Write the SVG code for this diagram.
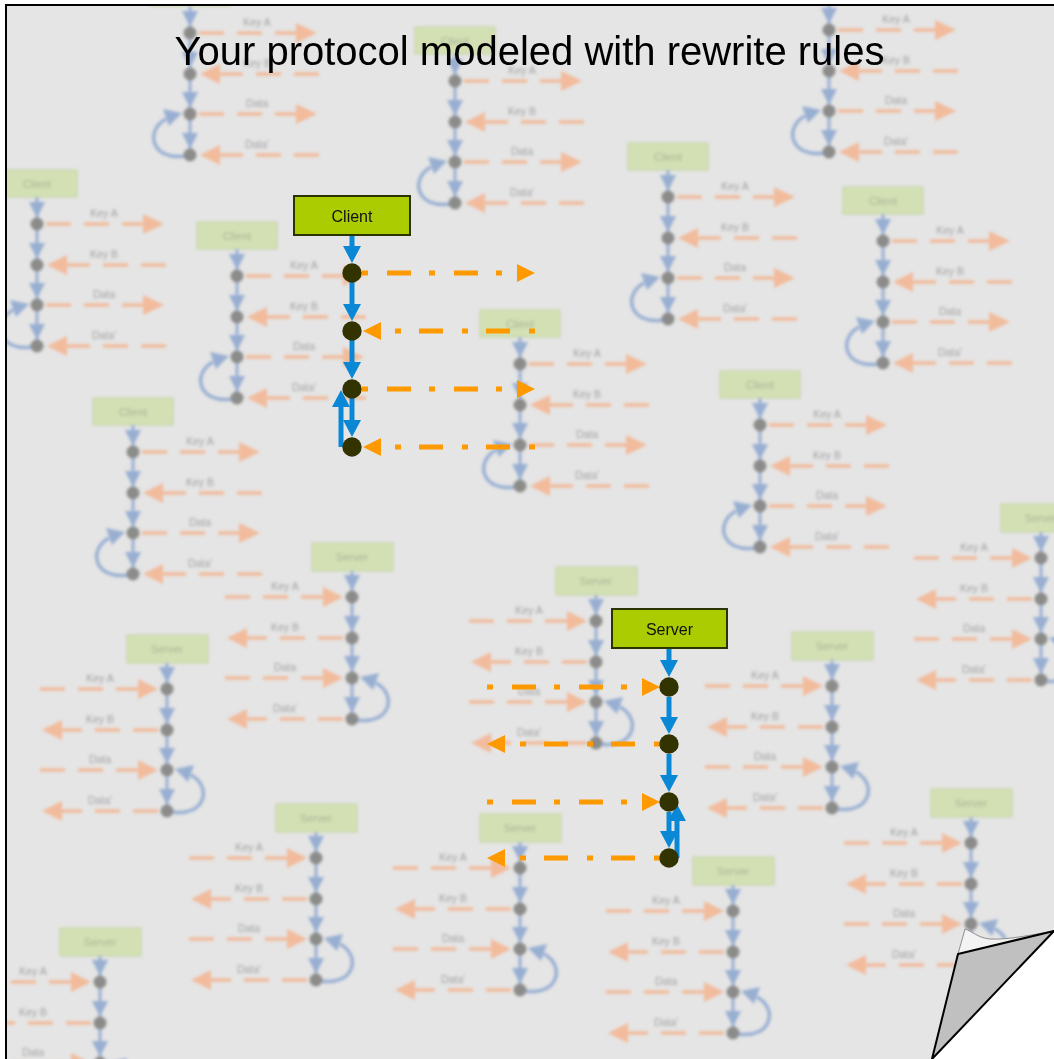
<svg xmlns="http://www.w3.org/2000/svg" width="1054" height="1059" viewBox="0 0 1054 1059">
<style>
  .bbox{fill:#d2e0b3;stroke:#c3d3a3;stroke-width:1}
  .btxt{font-family:"Liberation Sans",Arial,sans-serif;font-size:11px;fill:#a7b497;text-anchor:middle}
  .bchain{stroke:#98afd2;stroke-width:3;fill:none}
  .bloop{stroke:#98afd2;stroke-width:3.5;fill:none}
  .bhead{fill:#98afd2}
  .bnode{fill:#8b8b89}
  .bdash{stroke:#f2bb9c;stroke-width:3.5;fill:none;stroke-dasharray:25 13}
  .bohead{fill:#f2bb9c}
  .blbl{font-family:"Liberation Sans",Arial,sans-serif;font-size:10.5px;fill:#a2a2a2;text-anchor:middle}
  .box{fill:#aacc00;stroke:#2b3300;stroke-width:2}
  .boxtxt{font-family:"Liberation Sans",Arial,sans-serif;font-size:16px;fill:#111;text-anchor:middle}
  .state{fill:#333300}
  .flow{stroke:#0a88d6;stroke-width:5;fill:none}
  .flowhead{fill:#0a88d6}
  .msg{stroke:#ff9900;stroke-width:5;fill:none;stroke-dasharray:6 19 24 18}
  .msghead{fill:#ff9900}
  .title{font-family:"Liberation Sans",Arial,sans-serif;font-size:40px;fill:#000;text-anchor:middle}
</style>
<defs>
  <filter id="soft" filterUnits="userSpaceOnUse" x="0" y="0" width="1054" height="1059">
    <feGaussianBlur stdDeviation="1.8"/>
  </filter>
  <clipPath id="page">
    <rect x="7" y="6" width="1047" height="1053"/>
  </clipPath>
  <!-- faded client template: origin = chain x, box top -->
  <g id="bg-client">
    <rect class="bbox" x="-40" y="0" width="80" height="27"/>
    <text class="btxt" x="0" y="17.5">Client</text>
    <path class="bchain" d="M0,27 V176"/>
    <path class="bhead" d="M-8,32 H8 L0,48 Z M-8,73 H8 L0,89 Z M-8,113 H8 L0,129 Z M-8,154 H8 L0,170 Z"/>
    <path class="bloop" d="M-5,177 C-38,182 -46,152 -24,140"/>
    <path class="bhead" d="M-8,134 L-27,130 L-21,147 Z"/>
    <path class="bdash" d="M9,54 H108 M129,95 H28 M9,135 H108 M129,176 H28"/>
    <path class="bohead" d="M106,44 L127,54 L106,64 Z M30,85 L10,95 L30,105 Z M106,125 L127,135 L106,145 Z M30,166 L10,176 L30,186 Z"/>
    <circle class="bnode" cx="0" cy="54" r="6.5"/>
    <circle class="bnode" cx="0" cy="95" r="6.5"/>
    <circle class="bnode" cx="0" cy="135" r="6.5"/>
    <circle class="bnode" cx="0" cy="176" r="6.5"/>
    <text class="blbl" x="67" y="47">Key A</text>
    <text class="blbl" x="67" y="88">Key B</text>
    <text class="blbl" x="67" y="128">Data</text>
    <text class="blbl" x="67" y="169">Data'</text>
  </g>
  <!-- faded server template -->
  <g id="bg-server">
    <rect class="bbox" x="-40" y="0" width="81" height="28"/>
    <text class="btxt" x="0" y="18">Server</text>
    <path class="bchain" d="M0,28 V176"/>
    <path class="bhead" d="M-8,32 H8 L0,48 Z M-8,73 H8 L0,89 Z M-8,113 H8 L0,129 Z M-8,154 H8 L0,170 Z"/>
    <path class="bloop" d="M5,177 C38,182 46,152 24,140"/>
    <path class="bhead" d="M8,134 L27,130 L21,147 Z"/>
    <path class="bdash" d="M-127,54 H-28 M-9,95 H-105 M-127,135 H-28 M-9,176 H-105"/>
    <path class="bohead" d="M-29,44 L-9,54 L-29,64 Z M-105,85 L-125,95 L-105,105 Z M-29,125 L-9,135 L-29,145 Z M-105,166 L-125,176 L-105,186 Z"/>
    <circle class="bnode" cx="0" cy="54" r="6.5"/>
    <circle class="bnode" cx="0" cy="95" r="6.5"/>
    <circle class="bnode" cx="0" cy="135" r="6.5"/>
    <circle class="bnode" cx="0" cy="176" r="6.5"/>
    <text class="blbl" x="-67" y="47">Key A</text>
    <text class="blbl" x="-67" y="88">Key B</text>
    <text class="blbl" x="-67" y="128">Data</text>
    <text class="blbl" x="-67" y="169">Data'</text>
  </g>
</defs>

<!-- outside of the sheet -->
<rect x="0" y="0" width="1054" height="1059" fill="#ffffff"/>

<!-- sheet with the faded pattern of rule diagrams -->
<g id="backdrop" clip-path="url(#page)">
  <rect x="7" y="6" width="1047" height="1053" fill="#e5e5e5"/>
  <g filter="url(#soft)">
    <use href="#bg-client" transform="translate(190,-21)"/>
    <use href="#bg-client" transform="translate(455,27)"/>
    <use href="#bg-client" transform="translate(829,-24)"/>
    <use href="#bg-client" transform="translate(668,143)"/>
    <use href="#bg-client" transform="translate(37,170)"/>
    <use href="#bg-client" transform="translate(237,222)"/>
    <use href="#bg-client" transform="translate(520,310)"/>
    <use href="#bg-client" transform="translate(883,187)"/>
    <use href="#bg-client" transform="translate(760,371)"/>
    <use href="#bg-client" transform="translate(133,398)"/>
    <use href="#bg-server" transform="translate(352,543)"/>
    <use href="#bg-server" transform="translate(167,635)"/>
    <use href="#bg-server" transform="translate(596,567)"/>
    <use href="#bg-server" transform="translate(832,632)"/>
    <use href="#bg-server" transform="translate(1041,504)"/>
    <use href="#bg-server" transform="translate(316,804)"/>
    <use href="#bg-server" transform="translate(520,814)"/>
    <use href="#bg-server" transform="translate(733,857)"/>
    <use href="#bg-server" transform="translate(971,789)"/>
    <use href="#bg-server" transform="translate(100,928)"/>
  </g>
</g>

<!-- sheet edge -->
<path d="M6,1059 V5 H1054" fill="none" stroke="#000" stroke-width="2"/>

<text class="title" x="529.5" y="65">Your protocol modeled with rewrite rules</text>

<!-- connectors -->
<g id="connectors">
  <path class="flow" d="M352,235 V248 M352,282 V305 M352,340 V363 M352,398 V421 M341,447 V406"/>
  <path class="flowhead" d="M343,246 H361 L352,263 Z M343,304 H361 L352,321 Z M343,362 H361 L352,379 Z M343,420 H361 L352,437 Z M332,407 H350 L341,390 Z"/>
  <path class="msg" d="M362,273 H518 M535,331 H381 M362,389 H518 M535,447 H381"/>
  <path class="msghead" d="M517,264 L535,273 L517,282 Z M381,322 L363,331 L381,340 Z M517,380 L535,389 L517,398 Z M381,438 L363,447 L381,456 Z"/>

  <path class="flow" d="M669,648 V661 M669,697 V718 M669,754 V776 M669,812 V832 M677,858 V820"/>
  <path class="flowhead" d="M660,660 H678 L669,677 Z M660,717 H678 L669,734 Z M660,775 H678 L669,792 Z M660,831 H678 L669,848 Z M668,821 H686 L677,804 Z"/>
  <path class="msg" d="M487,687 H643 M660,744 H505 M487,802 H643 M660,858 H505"/>
  <path class="msghead" d="M642,678 L660,687 L642,696 Z M505,735 L487,744 L505,753 Z M642,793 L660,802 L642,811 Z M505,849 L487,858 L505,867 Z"/>
</g>

<!-- client role -->
<g id="client">
  <rect class="box" x="294" y="196" width="116" height="39"/>
  <text class="boxtxt" x="352" y="222">Client</text>
</g>
<g id="client-s1"><circle class="state" cx="352" cy="273" r="9.7"/></g>
<g id="client-s2"><circle class="state" cx="352" cy="331" r="9.7"/></g>
<g id="client-s3"><circle class="state" cx="352" cy="389" r="9.7"/></g>
<g id="client-s4"><circle class="state" cx="352" cy="447" r="9.7"/></g>

<!-- server role -->
<g id="server">
  <rect class="box" x="612" y="609" width="115" height="39"/>
  <text class="boxtxt" x="669.5" y="635">Server</text>
</g>
<g id="server-s1"><circle class="state" cx="669" cy="687" r="9.7"/></g>
<g id="server-s2"><circle class="state" cx="669" cy="744" r="9.7"/></g>
<g id="server-s3"><circle class="state" cx="669" cy="802" r="9.7"/></g>
<g id="server-s4"><circle class="state" cx="669" cy="858" r="9.7"/></g>

<!-- curled page corner -->
<g id="page-curl">
  <polygon points="932,1059 1054,931 1054,1059" fill="#ffffff"/>
  <path d="M958,954 L965,929 C972,931 978,938 990,939 C1010,940 1035,934 1054,931 Z" fill="#f3f3f3" stroke="#8c8c8c" stroke-width="1"/>
  <polygon points="958,954 1054,931 932,1059" fill="#c0c0c0" stroke="#000" stroke-width="2" stroke-linejoin="round"/>
</g>
</svg>
